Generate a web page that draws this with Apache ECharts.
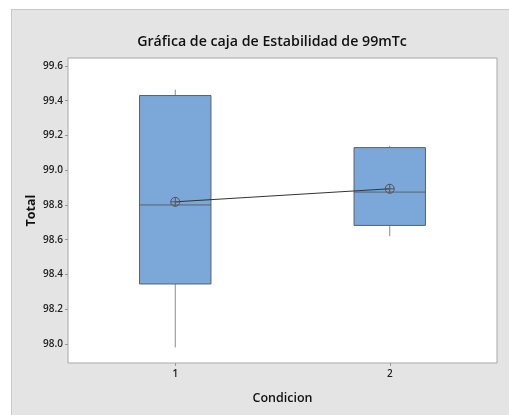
<!DOCTYPE html>
<html>
<head>
<meta charset="utf-8">
<script src="https://cdn.jsdelivr.net/npm/echarts@6/dist/echarts.min.js"></script>
<style>
html,body{margin:0;padding:0;background:#fff;}
#bg{position:absolute;left:11px;top:9px;width:497px;height:405px;background:#e4e4e4;border-left:1px solid #c9c9c9;border-top:1px solid #c9c9c9;}
#main{position:absolute;left:0;top:0;width:509px;height:415px;}
</style>
</head>
<body>
<div id="bg"></div>
<div id="main"></div>
<script>
const categories = ['1', '2'];
const whiskerLow = [97.98, 98.62];
const q1 = [98.345, 98.682];
const median = [98.80, 98.874];
const q3 = [99.43, 99.13];
const whiskerHigh = [99.464, 99.14];
const means = [98.818, 98.893];
const yTicks = [98.0, 98.2, 98.4, 98.6, 98.8, 99.0, 99.2, 99.4, 99.6];

const boxData = categories.map((c, i) => [i, whiskerLow[i], q1[i], median[i], q3[i], whiskerHigh[i]]);

const chart = echarts.init(document.getElementById('main'), null, {renderer: 'canvas'});
const FONT = '"Open Sans", "Noto Sans", sans-serif';

chart.setOption({
  backgroundColor: 'transparent',
  animation: false,
  title: {
    text: 'Gráfica de caja de Estabilidad de 99mTc',
    left: 267, top: 30, textAlign: 'center',
    textStyle: {fontFamily: FONT, fontSize: 14.2, fontWeight: 600, color: '#111'}
  },
  grid: {left: 68, top: 58, right: 12, bottom: 52, show: true, backgroundColor: '#fff', borderColor: '#a8a8a8', borderWidth: 1},
  xAxis: {
    type: 'category', data: categories, boundaryGap: true,
    name: 'Condicion', nameLocation: 'middle', nameGap: 29, nameMoveOverlap: false,
    nameTextStyle: {fontFamily: FONT, fontSize: 12.5, fontWeight: 600, color: '#111'},
    axisLine: {show: false},
    axisTick: {show: true, alignWithLabel: true, length: 3, lineStyle: {color: '#999'}},
    axisLabel: {fontFamily: FONT, fontSize: 10, fontWeight: 600, color: '#222', margin: 6},
    splitLine: {show: false}
  },
  yAxis: {
    type: 'value', min: 97.89, max: 99.646,
    name: 'Total', nameLocation: 'middle', nameGap: 30, nameRotate: 90, nameMoveOverlap: false,
    nameTextStyle: {fontFamily: FONT, fontSize: 12.5, fontWeight: 'bold', color: '#111'},
    axisLine: {show: false},
    axisTick: {show: true, length: 3, customValues: yTicks, lineStyle: {color: '#999'}},
    axisLabel: {fontFamily: FONT, fontSize: 10, fontWeight: 600, color: '#222', margin: 5,
      customValues: yTicks, formatter: v => v.toFixed(1)},
    splitLine: {show: false}
  },
  series: [
    {
      type: 'custom', z: 2,
      data: boxData,
      renderItem: function (params, api) {
        const x = api.value(0);
        const pLow = api.coord([x, api.value(1)]);
        const pQ1 = api.coord([x, api.value(2)]);
        const pMed = api.coord([x, api.value(3)]);
        const pQ3 = api.coord([x, api.value(4)]);
        const pHigh = api.coord([x, api.value(5)]);
        const bw = api.size([1, 0])[0] * 0.333;
        const cx = pQ1[0];
        return {
          type: 'group',
          children: [
            {type: 'line', shape: {x1: cx, y1: pHigh[1], x2: cx, y2: pQ3[1]}, style: {stroke: '#8a8a8a', lineWidth: 1}},
            {type: 'line', shape: {x1: cx, y1: pQ1[1], x2: cx, y2: pLow[1]}, style: {stroke: '#8a8a8a', lineWidth: 1}},
            {type: 'rect', shape: {x: cx - bw / 2, y: pQ3[1], width: bw, height: pQ1[1] - pQ3[1]},
              style: {fill: '#7ba7d9', stroke: '#58626e', lineWidth: 1}},
            {type: 'line', shape: {x1: cx - bw / 2, y1: pMed[1], x2: cx + bw / 2, y2: pMed[1]}, style: {stroke: '#58626e', lineWidth: 1}}
          ]
        };
      }
    },
    {
      type: 'line', z: 3,
      data: means,
      symbol: 'path://M0,5 A5,5 0 1,1 10,5 A5,5 0 1,1 0,5 Z M5,0 L5,10 M0,5 L10,5',
      symbolSize: 9,
      itemStyle: {color: 'rgba(0,0,0,0)', borderColor: '#555', borderWidth: 1},
      lineStyle: {color: '#333', width: 1}
    }
  ]
});
</script>
</body>
</html>
